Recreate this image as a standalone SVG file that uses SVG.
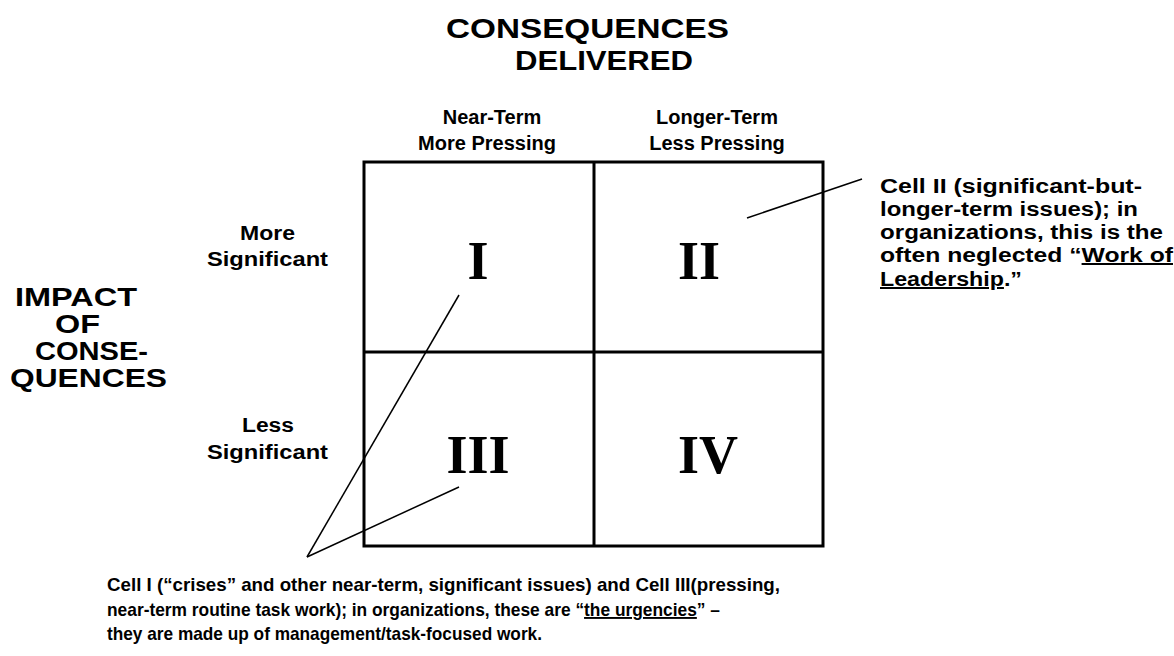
<svg xmlns="http://www.w3.org/2000/svg" width="1174" height="656" viewBox="0 0 1174 656">
<style>
.t{font-family:"Liberation Sans",Arial,sans-serif;font-weight:bold;fill:#000}
.m{text-anchor:middle}
.r{font-family:"Liberation Serif","Times New Roman",serif;font-weight:bold;font-size:54px;fill:#000;text-anchor:middle}
.u{text-decoration:underline}
.ln{stroke:#000;stroke-width:1.5;fill:none}
.grid{stroke:#000;stroke-width:3;fill:none}
</style>
<rect width="1174" height="656" fill="#fff"/>
<g id="title">
<text class="t" x="446" y="38" font-size="27" textLength="283" lengthAdjust="spacingAndGlyphs">CONSEQUENCES</text>
<text class="t" x="515" y="70" font-size="27" textLength="178" lengthAdjust="spacingAndGlyphs">DELIVERED</text>
</g>
<g id="col-headers">
<text class="t m" x="492" y="124" font-size="20">Near-Term</text>
<text class="t m" x="487" y="150" font-size="20">More Pressing</text>
<text class="t m" x="717" y="124" font-size="20">Longer-Term</text>
<text class="t m" x="717" y="150" font-size="20">Less Pressing</text>
</g>
<g id="row-headers">
<text class="t" x="240" y="240" font-size="20" textLength="55" lengthAdjust="spacingAndGlyphs">More</text>
<text class="t" x="207" y="266" font-size="20" textLength="121" lengthAdjust="spacingAndGlyphs">Significant</text>
<text class="t" x="242" y="432" font-size="20" textLength="52" lengthAdjust="spacingAndGlyphs">Less</text>
<text class="t" x="207" y="459" font-size="20" textLength="121" lengthAdjust="spacingAndGlyphs">Significant</text>
</g>
<g id="axis-impact">
<text class="t" x="15" y="306" font-size="25" textLength="122" lengthAdjust="spacingAndGlyphs">IMPACT</text>
<text class="t" x="55" y="333" font-size="25" textLength="45" lengthAdjust="spacingAndGlyphs">OF</text>
<text class="t" x="35" y="360" font-size="25" textLength="113" lengthAdjust="spacingAndGlyphs">CONSE-</text>
<text class="t" x="10" y="387" font-size="25" textLength="157" lengthAdjust="spacingAndGlyphs">QUENCES</text>
</g>
<g id="grid">
<rect class="grid" x="364" y="162" width="459" height="384"/>
<line class="grid" x1="594" y1="162" x2="594" y2="546"/>
<line class="grid" x1="364" y1="352" x2="823" y2="352"/>
</g>
<g id="cell-I"><text class="r" x="478" y="279">I</text></g>
<g id="cell-II"><text class="r" x="699" y="279">II</text></g>
<g id="cell-III"><text class="r" x="478" y="473">III</text></g>
<g id="cell-IV"><text class="r" x="708" y="473">IV</text></g>
<g id="connectors">
<line class="ln" x1="459" y1="295" x2="307" y2="557"/>
<line class="ln" x1="459" y1="487" x2="307" y2="557"/>
<line class="ln" x1="747" y1="218" x2="862" y2="179"/>
</g>
<g id="note-II">
<text class="t" x="880" y="193" font-size="20" textLength="262" lengthAdjust="spacingAndGlyphs">Cell II (significant-but-</text>
<text class="t" x="880" y="216" font-size="20" textLength="258" lengthAdjust="spacingAndGlyphs">longer-term issues); in</text>
<text class="t" x="880" y="239" font-size="20" textLength="283" lengthAdjust="spacingAndGlyphs">organizations, this is the</text>
<text class="t" x="880" y="262" font-size="20" textLength="293" lengthAdjust="spacingAndGlyphs">often neglected “<tspan class="u">Work of</tspan></text>
<text class="t" x="880" y="286" font-size="20" textLength="142" lengthAdjust="spacingAndGlyphs"><tspan class="u">Leadership</tspan>.”</text>
</g>
<g id="note-I-III">
<text class="t" x="107" y="591" font-size="19" textLength="673" lengthAdjust="spacingAndGlyphs">Cell I (“crises” and other near-term, significant issues) and Cell III(pressing,</text>
<text class="t" x="107" y="616" font-size="19" textLength="613" lengthAdjust="spacingAndGlyphs">near-term routine task work); in organizations, these are “<tspan class="u">the urgencies</tspan>” –</text>
<text class="t" x="107" y="640" font-size="19" textLength="435" lengthAdjust="spacingAndGlyphs">they are made up of management/task-focused work.</text>
</g>
</svg>
